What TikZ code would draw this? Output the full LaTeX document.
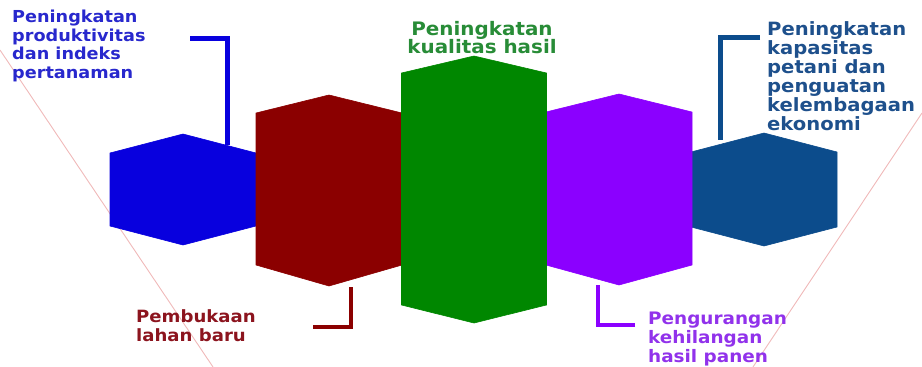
\documentclass[tikz,border=0pt]{standalone}
\usepackage{fontspec}
\newfontfamily\lblfont{DejaVu Sans Bold}[FakeStretch=1.07]
\definecolor{cblue}{RGB}{8,0,222}
\definecolor{cred}{RGB}{139,0,0}
\definecolor{cgreen}{RGB}{0,135,0}
\definecolor{cpurple}{RGB}{139,0,255}
\definecolor{cdblue}{RGB}{12,76,140}
\definecolor{tblue}{RGB}{40,40,205}
\definecolor{tred}{RGB}{140,20,30}
\definecolor{tgreen}{RGB}{40,140,55}
\definecolor{tpurple}{RGB}{145,50,235}
\definecolor{tdblue}{RGB}{30,80,140}
\definecolor{pinkline}{RGB}{240,185,185}
\begin{document}
\begin{tikzpicture}[x=1pt,y=-1pt,
  lbl/.style={inner sep=0pt,anchor=north west,align=left},
  brk/.style={line width=#1,line cap=butt,line join=miter},
  guide/.style={draw=pinkline,line width=0.9pt}]
\useasboundingbox (0,0) rectangle (922,367);
% thin guide lines
\coordinate (gl1) at (0,50);
\coordinate (gl2) at (213,367);
\coordinate (gr1) at (922,113);
\coordinate (gr2) at (753,367);
\draw[guide] (gl1) -- (gl2);
\draw[guide] (gr1) -- (gr2);
% labels
\node[lbl,text=tblue,font={\lblfont\fontsize{16.5}{18.5}\selectfont}] (tProd) at (12,10.2)
  {Peningkatan\\produktivitas\\dan indeks\\pertanaman};
\node[lbl,text=tgreen,anchor=north,align=center,font={\lblfont\fontsize{18.6}{18.3}\selectfont}] (tKual) at (482,20.7)
  {Peningkatan\\kualitas hasil};
\node[lbl,text=tdblue,font={\lblfont\fontsize{18.3}{19}\selectfont}] (tKap) at (767,21.1)
  {Peningkatan\\kapasitas\\petani dan\\penguatan\\kelembagaan\\ekonomi};
\node[lbl,text=tred,font={\lblfont\fontsize{16.9}{19.4}\selectfont}] (tLahan) at (136,309.5)
  {Pembukaan\\lahan baru};
\node[lbl,text=tpurple,font={\lblfont\fontsize{17.2}{18.9}\selectfont}] (tPanen) at (648,311.8)
  {Pengurangan\\kehilangan\\hasil panen};
% hexagons
\newcommand{\hexa}[7]{%
  \filldraw[fill=#7,draw=#7,line width=0.6pt,line join=miter] (#1,#3) -- (#1+#2,#4) -- (#1+#2,#5) -- (#1,#6) -- (#1-#2,#5) -- (#1-#2,#4) -- cycle;}
\hexa{183}{73}{134}{153}{226}{245}{cblue}
\hexa{764}{73}{133}{152}{227}{246}{cdblue}
\hexa{329}{73}{95}{113}{265}{286}{cred}
\hexa{619}{73}{94}{112}{265}{285}{cpurple}
\hexa{474}{72.5}{56}{73}{305}{323}{cgreen}
\coordinate (hBlueTop) at (227.5,145);
\coordinate (hRedBot) at (351,287);
\coordinate (hPurBot) at (598,285);
\coordinate (hDbTop) at (720.5,140);
% brackets
\draw[brk=5pt,cblue] (190,38) -| (hBlueTop);
\draw[brk=4.5pt,cred] (313,327) -| (hRedBot);
\draw[brk=4.5pt,cpurple] (635,325) -| (hPurBot);
\draw[brk=5pt,cdblue] (760,37) -| (hDbTop);
\end{tikzpicture}
\end{document}
